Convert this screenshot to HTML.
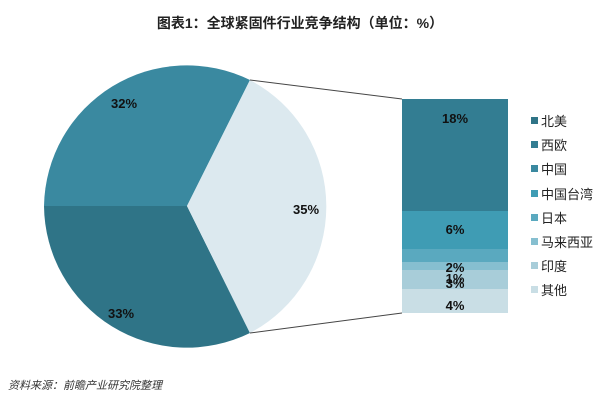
<!DOCTYPE html>
<html><head><meta charset="utf-8"><style>
body{margin:0;background:#fff;}
svg{display:block;}
text{font-family:"Liberation Sans","Noto Sans CJK SC",sans-serif;}
</style></head><body>
<svg width="600" height="400" viewBox="0 0 600 400">
<text x="300" y="28" text-anchor="middle" font-size="14" font-weight="bold" fill="#222">图表1：全球紧固件行业竞争结构（单位：%）</text>
<path d="M187,206 L250,80 A143,143 0 0 0 44,206 Z" fill="#3a89a0"/>
<path d="M187,206 L44,206 A143,143 0 0 0 250,333 Z" fill="#2f7487"/>
<path d="M187,206 L250,333 A143,143 0 0 0 250,80 Z" fill="#dce9ef"/>
<line x1="250" y1="80" x2="402" y2="99" stroke="#444" stroke-width="1"/>
<line x1="250" y1="333" x2="402" y2="313" stroke="#444" stroke-width="1"/>
<text x="124" y="108" font-size="13" font-weight="bold" fill="#111" text-anchor="middle">32%</text>
<text x="306" y="214" font-size="13" font-weight="bold" fill="#111" text-anchor="middle">35%</text>
<text x="121" y="318" font-size="13" font-weight="bold" fill="#111" text-anchor="middle">33%</text>
<rect x="402" y="99" width="106" height="112" fill="#337d92"/>
<rect x="402" y="211" width="106" height="38" fill="#3f9cb4"/>
<rect x="402" y="249" width="106" height="13" fill="#5aa9bf"/>
<rect x="402" y="262" width="106" height="8" fill="#86bfd0"/>
<rect x="402" y="270" width="106" height="19" fill="#a8cdd9"/>
<rect x="402" y="289" width="106" height="24" fill="#c9dee5"/>
<g font-size="13" font-weight="bold" fill="#111" text-anchor="middle">
<text x="455" y="123">18%</text>
<text x="455" y="234">6%</text>
<text x="455" y="272">2%</text>
<text x="455" y="283">1%</text>
<text x="455" y="288">3%</text>
<text x="455" y="310">4%</text>
</g>
<g font-size="13" fill="#222">
<rect x="531" y="117" width="7" height="7" fill="#2f7487"/><text x="541" y="126">北美</text>
<rect x="531" y="141" width="7" height="7" fill="#337d92"/><text x="541" y="150">西欧</text>
<rect x="531" y="165" width="7" height="7" fill="#3a89a0"/><text x="541" y="174">中国</text>
<rect x="531" y="190" width="7" height="7" fill="#3f9cb4"/><text x="541" y="199">中国台湾</text>
<rect x="531" y="214" width="7" height="7" fill="#5aa9bf"/><text x="541" y="223">日本</text>
<rect x="531" y="238" width="7" height="7" fill="#86bfd0"/><text x="541" y="247">马来西亚</text>
<rect x="531" y="262" width="7" height="7" fill="#a8cdd9"/><text x="541" y="271">印度</text>
<rect x="531" y="286" width="7" height="7" fill="#c9dee5"/><text x="541" y="295">其他</text>
</g>
<text x="8" y="389" font-size="11" font-style="italic" fill="#333">资料来源：前瞻产业研究院整理</text>
</svg>
</body></html>
